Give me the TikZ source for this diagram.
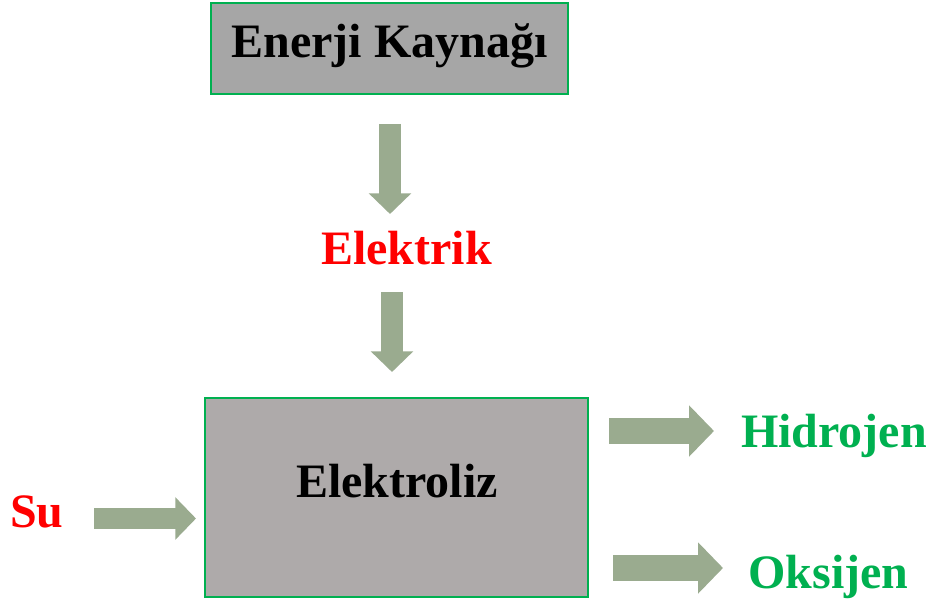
\documentclass[tikz,border=0pt]{standalone}
\usepackage{fontspec}
\setmainfont{Liberation Serif}
\usepackage{tikz}
\usetikzlibrary{positioning,arrows.meta,calc}
\definecolor{boxGreen}{HTML}{00B050}
\definecolor{srcGray}{HTML}{A6A6A6}
\definecolor{elzGray}{HTML}{AEAAAA}
\definecolor{arrowSage}{HTML}{9AAB8F}
\definecolor{txtRed}{HTML}{FF0000}
\definecolor{txtGreen}{HTML}{00B050}
\tikzset{
  blk/.style   = {draw=boxGreen, line width=1.5pt, inner sep=0pt},
  src/.style   = {blk, fill=srcGray},
  cell/.style  = {blk, fill=elzGray},
  lbl/.style   = {font=\fontsize{36}{40}\selectfont\bfseries, inner sep=0pt, anchor=base},
  fat/.style   = {draw=arrowSage, line width=16pt, -{Triangle[length=15.5pt,width=31pt]}},
  fatw/.style  = {draw=arrowSage, line width=19.5pt, -{Triangle[length=18.75pt,width=37.5pt]}},
}
\begin{document}
\begin{tikzpicture}[x=0.75pt,y=-0.75pt]
  \useasboundingbox (0,0) rectangle (931,602);
  % source and cell
  \node[src, minimum width=267.75pt, minimum height=68.25pt] (kaynak) at (389.5,48.5) {};
  \node[lbl] (kaynaklbl) at (389.5,58) {Enerji Kaynağı};
  \node[cell, minimum width=287.25pt, minimum height=149.25pt] (elz) at (396.5,497.5) {};
  \node[lbl] (elzlbl) at (397,497) {Elektroliz};

  % inputs and outputs
  \node[lbl, text=txtRed] (elk) at (406.5,265) {Elektrik};
  \node[lbl, text=txtRed] (su) at (37,527) {Su};
  \node[lbl, text=txtGreen] (hid) at (834,447) {Hidrojen};
  \node[lbl, text=txtGreen] (oks) at (828.5,588) {Oksijen};

  \draw[fat] ($(kaynak.south)+(0.5,29)$) -- ($(kaynak.south)+(0.5,119)$);
  \draw[fat] ($(elz.north)+(-4.5,-105)$) -- ($(elz.north)+(-4.5,-25)$);
  \draw[fat] ($(elz.west)+(-110,21)$) -- ($(elz.west)+(-8,21)$);
  \draw[fatw] ($(elz.east)+(20,-66.5)$) -- ($(elz.east)+(125,-66.5)$);
  \draw[fatw] ($(elz.east)+(24,70.5)$) -- ($(elz.east)+(134,70.5)$);
\end{tikzpicture}
\end{document}
